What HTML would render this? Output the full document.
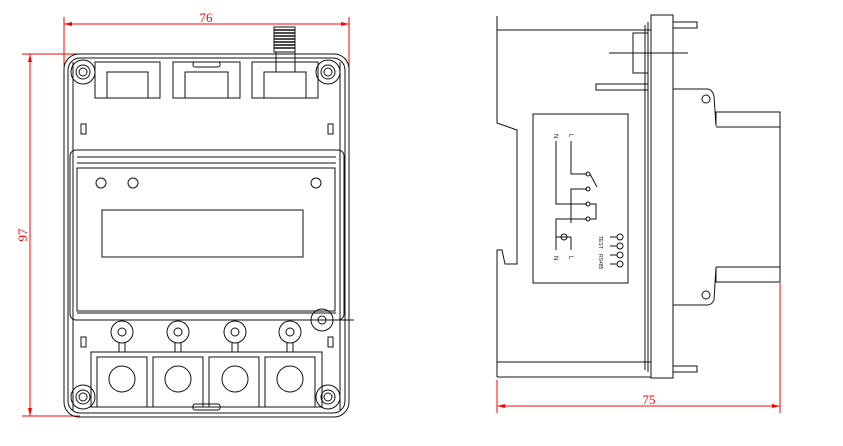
<!DOCTYPE html>
<html><head><style>body{margin:0;background:#fff}svg{display:block}</style></head><body>
<svg width="843" height="446" viewBox="0 0 843 446" xmlns="http://www.w3.org/2000/svg" font-family="Liberation Serif, serif">
<g stroke="#f00" stroke-width="1" fill="none">
<line x1="64" y1="17" x2="64" y2="66"/><line x1="349" y1="17" x2="349" y2="68"/>
<line x1="64" y1="24" x2="349" y2="24"/>
<line x1="22" y1="54" x2="80" y2="54"/><line x1="22" y1="416" x2="80" y2="416"/>
<line x1="30" y1="54" x2="30" y2="416"/>
<line x1="497" y1="380" x2="497" y2="413"/><line x1="780" y1="283" x2="780" y2="413"/>
<line x1="497" y1="406" x2="780" y2="406"/>
</g>
<g fill="#f00">
<path d="M64 24l8-2v4z M349 24l-8-2v4z M30 54l-2 8h4z M30 416l-2-8h4z M497 406l8-2v4z M780 406l-8-2v4z"/>
<text x="206" y="22" font-size="13" text-anchor="middle">76</text>
<text x="649" y="404" font-size="13" text-anchor="middle">75</text>
<text transform="translate(27,235) rotate(-90)" font-size="13" text-anchor="middle">97</text>
</g>
<g stroke="#111" stroke-width="1" fill="none">
<rect x="64" y="54" width="285" height="363" rx="15"/>
<rect x="68" y="58" width="277" height="355" rx="12"/>
<line x1="73" y1="62" x2="73" y2="410"/><line x1="340" y1="62" x2="340" y2="410"/>
<circle cx="83" cy="72" r="12"/><circle cx="83" cy="72" r="7"/><circle cx="83" cy="72" r="4"/>
<circle cx="328" cy="72" r="12"/><circle cx="328" cy="72" r="7"/><circle cx="328" cy="72" r="4"/>
<circle cx="83" cy="397" r="12"/><circle cx="83" cy="397" r="7"/><circle cx="83" cy="397" r="4"/>
<circle cx="328" cy="397" r="12"/><circle cx="328" cy="397" r="7"/><circle cx="328" cy="397" r="4"/>
<rect x="95" y="62" width="65" height="36"/><rect x="107" y="72" width="41" height="26"/>
<rect x="173" y="62" width="67" height="36"/><rect x="185" y="72" width="43" height="26"/>
<rect x="252" y="62" width="66" height="36"/><rect x="264" y="72" width="42" height="26"/>
<rect x="193" y="62" width="27" height="5" rx="2"/>
<rect x="274" y="27" width="21" height="25"/>
<path d="M274 30h21M274 33h21M274 36h21M274 39h21M274 42h21M274 45h21M274 48h21" stroke-width="1.5"/>
<line x1="276" y1="52" x2="276" y2="72"/><line x1="295" y1="52" x2="295" y2="72"/>
<rect x="81" y="124" width="5" height="10"/><rect x="328" y="124" width="5" height="10"/>
<rect x="81" y="337" width="5" height="10"/><rect x="328" y="337" width="5" height="10"/>
<rect x="70" y="150" width="274" height="170" rx="6"/>
<line x1="77" y1="157" x2="336" y2="157"/><line x1="77" y1="163" x2="336" y2="163"/>
<rect x="77" y="168" width="258" height="143"/>
<line x1="77" y1="313" x2="336" y2="313"/>
<circle cx="101" cy="183" r="5"/><circle cx="133" cy="183" r="5"/><circle cx="316" cy="183" r="5"/>
<rect x="102" y="210" width="201" height="47"/>
<circle cx="322" cy="320" r="11"/><circle cx="322" cy="320" r="4"/><line x1="300" y1="320" x2="354" y2="320"/>
<circle cx="122" cy="332" r="11"/><circle cx="122" cy="332" r="4"/>
<circle cx="178" cy="332" r="11"/><circle cx="178" cy="332" r="4"/>
<circle cx="235" cy="332" r="11"/><circle cx="235" cy="332" r="4"/>
<circle cx="290" cy="332" r="11"/><circle cx="290" cy="332" r="4"/>
<path d="M119 343v9M125 343v9M175 343v9M181 343v9M232 343v9M238 343v9M287 343v9M293 343v9"/>
<rect x="91" y="352" width="231" height="55"/>
<rect x="97" y="357" width="50" height="50"/><rect x="153" y="357" width="50" height="50"/>
<rect x="209" y="357" width="50" height="50"/><rect x="265" y="357" width="50" height="50"/>
<circle cx="122" cy="379" r="13"/><circle cx="178" cy="379" r="13"/><circle cx="235" cy="379" r="13"/><circle cx="290" cy="379" r="13"/>
<rect x="193" y="404" width="27" height="6" rx="2"/>
</g>
<g stroke="#111" stroke-width="1" fill="none">
<path d="M497 16V123L517 130V264H505L502 250H497V377"/>
<line x1="497" y1="30" x2="651" y2="30"/>
<line x1="497" y1="362" x2="651" y2="362"/><line x1="497" y1="377" x2="651" y2="377"/>
<rect x="651" y="15" width="22" height="363"/><line x1="648" y1="22" x2="648" y2="372"/><line x1="645" y1="25" x2="645" y2="370"/>
<rect x="673" y="22" width="24" height="6"/><rect x="673" y="366" width="24" height="6"/>
<rect x="633" y="33" width="15" height="40"/><line x1="609" y1="53" x2="688" y2="53"/>
<rect x="596" y="84" width="52" height="6"/>
<path d="M673 30V89H707Q712 89 714 96L716 126V112H780V282H716V267L714 300Q712 305 707 305H673V365"/>
<line x1="716" y1="127" x2="780" y2="127"/><line x1="716" y1="267" x2="780" y2="267"/>
<circle cx="706" cy="99" r="4"/><circle cx="706" cy="295" r="4"/>
<rect x="533" y="114" width="95" height="169"/>
<path d="M556 141V204H587M571 141V174H587M571 223V189H587M556 244V219H587M590 204H596V219H590M590 174L597 187"/>
<circle cx="588" cy="174" r="2"/><circle cx="588" cy="189" r="2"/><circle cx="588" cy="204" r="2"/><circle cx="588" cy="219" r="2"/>
<circle cx="564" cy="237" r="3"/><line x1="556" y1="237" x2="571" y2="237"/>
<line x1="556" y1="237" x2="556" y2="250"/><line x1="571" y1="237" x2="571" y2="250"/>
<circle cx="620" cy="237" r="3"/><circle cx="620" cy="246" r="3"/><circle cx="620" cy="255" r="3"/><circle cx="620" cy="264" r="3"/>
<path d="M610 237h7M610 246h7M610 255h7M610 264h7"/>
</g>
<g font-size="6" fill="#111" font-family="Liberation Sans, sans-serif">
<text transform="translate(554,134) rotate(90)">N</text><text transform="translate(569,134) rotate(90)">L</text>
<text transform="translate(554,256) rotate(90)">N</text><text transform="translate(569,256) rotate(90)">L</text>
<text transform="translate(599,236) rotate(90)" font-size="5">TEST</text>
<text transform="translate(599,254) rotate(90)" font-size="5">RS485</text>
</g>
</svg>
</body></html>
